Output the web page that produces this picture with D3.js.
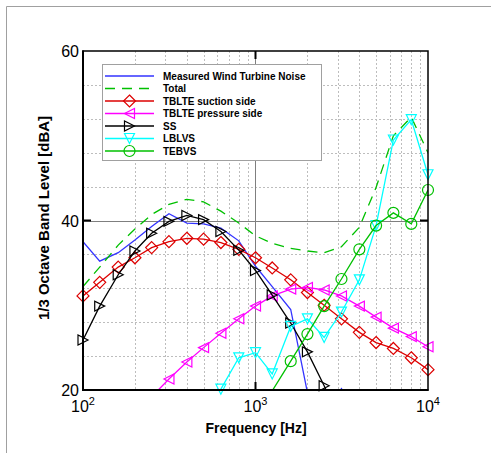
<!DOCTYPE html>
<html><head><meta charset="utf-8">
<script src="https://cdn.jsdelivr.net/npm/d3@7/dist/d3.min.js"></script>
<style>body{margin:0;background:#fff}svg{display:block;font-family:"Liberation Sans",Arial,sans-serif}</style>
</head><body><svg id="c" width="491" height="453"></svg>
<script>
const freqs = [100,125,160,200,250,315,400,500,630,800,1000,1250,1600,2000,2500,3150,4000,5000,6300,8000,10000];
const measured = [37.5,35.2,36.2,37.7,39.3,40.8,39.7,39.6,39.1,37.6,34.6,32.2,29.5,19.7,17.5,20.15,17,null,null,null,null];
const total    = [32.2,34.5,37.1,39.0,40.7,41.9,42.5,42.2,41.1,39.7,38.2,37.3,36.7,36.4,36.2,36.9,39.2,43.9,50.0,52.2,48.0];
const suction  = [31.1,32.7,34.5,35.6,36.8,37.5,37.9,37.8,37.4,36.6,35.6,34.4,33.0,31.5,30.0,28.4,26.8,25.6,24.9,23.8,22.4];
const pressure = [null,null,null,null,19.2,21.3,23.3,25.0,26.7,28.4,29.9,31.1,31.9,32.1,31.8,31.1,29.9,28.6,27.3,26.3,25.1];
const ss       = [25.9,29.9,33.6,36.4,38.5,39.9,40.6,40.1,38.7,36.5,34.1,31.2,27.9,24.5,20.5,16.0,null,null,null,null,null];
const lblvs    = [null,null,null,null,null,null,null,null,20.1,23.8,24.4,21.9,27.5,28.4,26.2,29.2,33.0,39.4,49.5,51.9,45.4];
const tebvs    = [null,null,null,null,null,null,null,null,null,null,16.5,19.9,23.4,26.6,29.9,33.1,36.6,39.4,40.9,39.6,43.6];
const seriesNames = ["Measured Wind Turbine Noise","Total","TBLTE suction side","TBLTE pressure side","SS","LBLVS","TEBVS"];
const xTicks = [100,1000,10000];
const xTickExp = ["2","3","4"];
const yTicks = [20,40,60];

const svg = d3.select("#c");
const L=83,R=428,T=51,B=390;
const x = d3.scaleLog().domain([100,10000]).range([L,R]);
const y = d3.scaleLinear().domain([20,60]).range([B,T]);

// figure border
svg.append("line").attr("x1",6.5).attr("y1",6.5).attr("x2",491).attr("y2",6.5).attr("stroke","#a0a0a0");
svg.append("line").attr("x1",6.5).attr("y1",6.5).attr("x2",6.5).attr("y2",453).attr("stroke","#a0a0a0");

// grid
const minorX=[];
for(const d of [100,1000]) for(let k=2;k<=9;k++) minorX.push(d*k);
const minorY=[24,28,32,36,44,48,52,56];
const g=svg.append("g");
g.selectAll(".mx").data(minorX).join("line").attr("x1",d=>Math.round(x(d))+0.5).attr("x2",d=>Math.round(x(d))+0.5)
 .attr("y1",T).attr("y2",B).attr("stroke","#bdbdbd").attr("stroke-dasharray","2,2");
g.selectAll(".my").data(minorY).join("line").attr("y1",d=>Math.round(y(d))+0.5).attr("y2",d=>Math.round(y(d))+0.5)
 .attr("x1",L).attr("x2",R).attr("stroke","#bdbdbd").attr("stroke-dasharray","2,2");
g.append("line").attr("x1",Math.round(x(1000))+0.5).attr("x2",Math.round(x(1000))+0.5).attr("y1",T).attr("y2",B).attr("stroke","#7f7f7f");
g.append("line").attr("y1",Math.round(y(40))+0.5).attr("y2",Math.round(y(40))+0.5).attr("x1",L).attr("x2",R).attr("stroke","#7f7f7f");

// clip
svg.append("clipPath").attr("id","clip").append("rect").attr("x",L).attr("y",T).attr("width",R-L).attr("height",B-T);

const series=[
 {name:seriesNames[0],vals:measured,color:"#3333ff",dash:null,marker:null},
 {name:seriesNames[1],vals:total,color:"#00c000",dash:"10,7",marker:null},
 {name:seriesNames[2],vals:suction,color:"#dd0000",dash:null,marker:"diamond"},
 {name:seriesNames[3],vals:pressure,color:"#ff00ff",dash:null,marker:"left"},
 {name:seriesNames[4],vals:ss,color:"#000000",dash:null,marker:"right"},
 {name:seriesNames[5],vals:lblvs,color:"#00ffff",dash:null,marker:"down"},
 {name:seriesNames[6],vals:tebvs,color:"#00c000",dash:null,marker:"circle"}
];
function markerPath(type){
  const p=d3.path();
  if(type==="diamond"){p.moveTo(0,-6);p.lineTo(6,0);p.lineTo(0,6);p.lineTo(-6,0);p.closePath();}
  if(type==="left"){p.moveTo(-5,0);p.lineTo(5,-5);p.lineTo(5,5);p.closePath();}
  if(type==="right"){p.moveTo(5,0);p.lineTo(-5,-5);p.lineTo(-5,5);p.closePath();}
  if(type==="down"){p.moveTo(0,5);p.lineTo(-5,-5);p.lineTo(5,-5);p.closePath();}
  if(type==="circle"){p.arc(0,0,5.5,0,2*Math.PI);}
  return p.toString();
}
const line=d3.line().defined(d=>d[1]!=null).x(d=>x(d[0])).y(d=>y(d[1]));
const plot=svg.append("g");
series.forEach(s=>{
  const pts=freqs.map((f,i)=>[f,s.vals[i]]);
  plot.append("path").attr("d",line(pts)).attr("fill","none").attr("stroke",s.color)
    .attr("stroke-width",1.3).attr("stroke-dasharray",s.dash).attr("clip-path","url(#clip)");
  if(s.marker){
    plot.selectAll(null).data(pts.filter(d=>d[1]!=null&&d[1]>=20&&d[1]<=60)).join("path")
      .attr("d",markerPath(s.marker)).attr("transform",d=>`translate(${x(d[0])},${y(d[1])})`)
      .attr("fill","none").attr("stroke",s.color).attr("stroke-width",1.2);
  }
});

// axes box
svg.append("rect").attr("x",L).attr("y",T).attr("width",R-L).attr("height",B-T).attr("fill","none").attr("stroke","#000").attr("stroke-width",1.5);
svg.append("line").attr("x1",L).attr("x2",L).attr("y1",T-0.5).attr("y2",B+1).attr("stroke","#000").attr("stroke-width",2);
svg.append("line").attr("x1",L-1).attr("x2",R+0.5).attr("y1",B).attr("y2",B).attr("stroke","#000").attr("stroke-width",2);
// major ticks
const tk=svg.append("g").attr("stroke","#000").attr("stroke-width",2);
tk.append("line").attr("x1",L).attr("x2",L+8).attr("y1",y(40)).attr("y2",y(40));
tk.append("line").attr("x1",R).attr("x2",R-8).attr("y1",y(40)).attr("y2",y(40));
tk.append("line").attr("x1",x(1000)).attr("x2",x(1000)).attr("y1",B).attr("y2",B-8);
tk.append("line").attr("x1",x(1000)).attr("x2",x(1000)).attr("y1",T).attr("y2",T+8);

// tick labels
svg.selectAll(".yt").data(yTicks).join("text").attr("x",79).attr("y",d=>y(d)+6)
 .attr("text-anchor","end").attr("font-size",16).attr("fill","#000").text(d=>d);
xTicks.forEach((t,i)=>{
  const tx=svg.append("text").attr("x",x(t)).attr("y",412).attr("text-anchor","middle").attr("font-size",16).attr("fill","#000");
  tx.append("tspan").text("10");
  tx.append("tspan").attr("dy",-7).attr("font-size",11).text(xTickExp[i]);
});
svg.append("text").attr("x",256).attr("y",433).attr("text-anchor","middle").attr("font-size",14).attr("font-weight","bold").text("Frequency [Hz]");
svg.append("text").attr("transform","translate(48.5,218) rotate(-90)").attr("text-anchor","middle").attr("font-size",15).attr("font-weight","bold").text("1/3 Octave Band Level  [dBA]");

// legend
const lg=svg.append("g");
lg.append("rect").attr("x",102.5).attr("y",64.5).attr("width",219).attr("height",96).attr("fill","#fff").attr("stroke","#a0a0a0");
series.forEach((s,i)=>{
  const cy=76+i*12.5;
  lg.append("line").attr("x1",105).attr("x2",154).attr("y1",cy).attr("y2",cy).attr("stroke",s.color).attr("stroke-width",1.3).attr("stroke-dasharray",s.dash);
  if(s.marker) lg.append("path").attr("d",markerPath(s.marker)).attr("transform",`translate(129.5,${cy})`).attr("fill","none").attr("stroke",s.color).attr("stroke-width",1.2);
  lg.append("text").attr("x",163).attr("y",cy+3.6).attr("font-size",10).attr("font-weight","bold").attr("fill","#000").text(s.name);
});
</script></body></html>
